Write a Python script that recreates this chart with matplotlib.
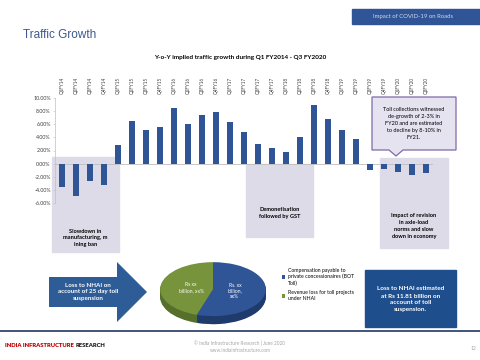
import numpy as np
import matplotlib.pyplot as plt
from matplotlib.patches import Rectangle, Polygon

plt.rcParams['font.family'] = ['Lato', 'DejaVu Sans']

W, H = 480, 360

# data
quarters = ['Q1FY14', 'Q2FY14', 'Q3FY14', 'Q4FY14',
            'Q1FY15', 'Q2FY15', 'Q3FY15', 'Q4FY15',
            'Q1FY16', 'Q2FY16', 'Q3FY16', 'Q4FY16',
            'Q1FY17', 'Q2FY17', 'Q3FY17', 'Q4FY17',
            'Q1FY18', 'Q2FY18', 'Q3FY18', 'Q4FY18',
            'Q1FY19', 'Q2FY19', 'Q3FY19', 'Q4FY19',
            'Q1FY20', 'Q2FY20', 'Q3FY20']
growth = [-3.6, -4.9, -2.6, -3.2,
          2.8, 6.5, 5.1, 5.6,
          8.5, 6.1, 7.4, 7.9,
          6.3, 4.8, 3.0, 2.4,
          1.8, 4.0, 9.0, 6.8,
          5.1, 3.7, -1.0, -0.8,
          -1.2, -1.7, -1.4]
y_ticks = [10, 8, 6, 4, 2, 0, -2, -4, -6]

pie_values = [55, 45]
pie_labels = ['Rs. xx\nbillion,\nxx%', 'Rs xx\nbillion, xx%']
legend_labels = ['Compensation payable to\nprivate concessionaires (BOT\nToll)',
                 'Revenue loss for toll projects\nunder NHAI']

BLUE = '#2f5597'
GREEN = '#77933c'
SHADE = '#dddbe8'


def fx(x):
    return x / W


def fy(y):
    return 1 - y / H


def pts(xy):
    return [(fx(x), fy(y)) for x, y in xy]


fig = plt.figure(figsize=(4.8, 3.6), dpi=100)
T = fig.transFigure

# header
fig.patches.append(Rectangle((fx(352), fy(24)), (480 - 352) / W, 15 / H,
                             transform=T, color=BLUE, zorder=0))
fig.text(fx(413), fy(16.5), 'Impact of COVID-19 on Roads', color='#d0d8ea',
         fontsize=4.3, ha='center', va='center')
fig.text(fx(23), fy(35), 'Traffic Growth', color='#3d5a8c', fontsize=8.5,
         family=['Liberation Sans', 'DejaVu Sans'], ha='left', va='center')
fig.text(fx(240), fy(57), 'Y-o-Y implied traffic growth during Q1 FY2014 - Q3 FY2020',
         fontsize=4.6, fontweight='bold', ha='center', va='center')

# main chart
ax = fig.add_axes([fx(55), fy(203), (433 - 55) / W, (203 - 98) / H])
ax.set_facecolor('none')
x = np.arange(len(quarters))
ax.bar(x, growth, width=0.42, color=BLUE, zorder=3)
ax.axhline(0, color='#bfbfbf', lw=0.6, zorder=2)
ax.set_xlim(-0.5, len(quarters) - 0.5)
ax.set_ylim(-6, 10)
ax.set_yticks(y_ticks, [f'{v:.2f}%' for v in y_ticks])
ax.set_xticks(x, quarters, rotation=90)
ax.xaxis.set_ticks_position('top')
ax.tick_params(axis='x', length=0, pad=3, labelsize=3.3, colors='#404040')
ax.tick_params(axis='y', length=1.5, width=0.4, pad=1.5, labelsize=3.8,
               colors='#bfbfbf', labelcolor='#404040')
for s in ['top', 'right', 'bottom']:
    ax.spines[s].set_visible(False)
ax.spines['left'].set_color('#bfbfbf')
ax.spines['left'].set_linewidth(0.5)

# shaded annotation boxes
boxes = [(52, 157, 119, 252), (246, 164, 313, 237), (380, 158, 448, 248)]
for x0, y0, x1, y1 in boxes:
    ax.add_patch(Rectangle((fx(x0), fy(y1)), (x1 - x0) / W, (y1 - y0) / H,
                           transform=T, color=SHADE, zorder=1, clip_on=False))
ax.text(fx(85.5), fy(238), 'Slowdown in\nmanufacturing, m\nining ban', transform=T,
        fontsize=4.1, fontweight='bold', ha='center', va='center', linespacing=1.45)
ax.text(fx(280), fy(213), 'Demonetisation\nfollowed by GST', transform=T,
        fontsize=4.1, fontweight='bold', ha='center', va='center', linespacing=1.45)
ax.text(fx(414), fy(226), 'Impact of revision\nin axle-load\nnorms and slow\ndown in economy',
        transform=T, fontsize=4.1, fontweight='bold', ha='center', va='center',
        linespacing=1.45)

# callout
callout = Polygon(pts([(372, 97), (456, 97), (456, 150), (403, 150), (396, 156),
                       (389, 150), (372, 150)]), closed=True, transform=T,
                  facecolor='#e6e3f0', edgecolor='#7e6aa8', lw=0.9, zorder=4,
                  clip_on=False)
ax.add_patch(callout)
ax.text(fx(414), fy(123.5),
        'Toll collections witnessed\nde-growth of 2-3% in\nFY20 and are estimated\nto decline by 8-10% in\nFY21.',
        transform=T, fontsize=4.0, ha='center', va='center', linespacing=1.5, zorder=5)

# arrow
arrow = Polygon(pts([(49, 277), (117, 277), (117, 262), (147, 292), (117, 322),
                     (117, 307), (49, 307)]), closed=True, transform=T,
                facecolor='#2d5c97', edgecolor='none')
fig.patches.append(arrow)
fig.text(fx(88), fy(292), 'Loss to NHAI on\naccount of 25 day toll\nsuspension',
         color='white', fontsize=4.5, fontweight='bold', ha='center', va='center',
         linespacing=1.45)

# 3d-ish pie: stacked darker copies underneath give the depth
axp = fig.add_axes([fx(156), fy(328), 114 / W, 68 / H])
depth = 0.3
dark = ['#1f3b6b', '#56702b']
for k in range(10, 0, -1):
    axp.pie(pie_values, colors=dark, startangle=90, counterclock=False,
            center=(0, -depth * k / 10), wedgeprops=dict(linewidth=0))
wedges, texts = axp.pie(pie_values, colors=[BLUE, GREEN], startangle=90,
                        counterclock=False, labels=pie_labels, labeldistance=0.42,
                        wedgeprops=dict(linewidth=0),
                        textprops=dict(color='white', fontsize=3.6))
for t in texts:
    t.set_ha('center')
    t.set_multialignment('center')
axp.set_aspect('auto')
axp.set_xlim(-1.08, 1.08)
axp.set_ylim(-1.44, 1.08)
axp.axis('off')

fig.legend(wedges, legend_labels, loc='upper left',
           bbox_to_anchor=(fx(280), fy(266)), bbox_transform=T, frameon=False,
           fontsize=3.7, handlelength=0.6, handleheight=0.6, handletextpad=0.5,
           labelspacing=0.9, borderaxespad=0)

# right box
fig.patches.append(Rectangle((fx(365), fy(327)), (456 - 365) / W, (327 - 270) / H,
                             transform=T, color='#1f4e8c', zorder=0))
fig.text(fx(410.5), fy(299.5),
         'Loss to NHAI estimated\nat Rs 11.81 billion on\naccount of toll\nsuspension.',
         color='white', fontsize=4.6, fontweight='bold', ha='center', va='center',
         linespacing=1.5)

# footer
fig.lines.append(plt.Line2D([0, 1], [fy(331), fy(331)], transform=T,
                            color='#1f3864', lw=1.2))
red = fig.text(fx(5), fy(345.5), 'INDIA INFRASTRUCTURE', color='#c00000',
               fontsize=4.2, fontweight='heavy', ha='left', va='center')
fig.text(fx(240), fy(346.5), '© India Infrastructure Research | June 2020\nwww.indiainfrastructure.com',
         color='#a6a6a6', fontsize=3.4, ha='center', va='center', linespacing=1.4)
fig.text(fx(473), fy(349), '12', color='#a6a6a6', fontsize=3.6, ha='center', va='center')

# place RESEARCH right after the red part
fig.canvas.draw()
bb = red.get_window_extent()
fig.text((bb.x1 + 1.5) / W, fy(345.5), 'RESEARCH', color='#222222',
         fontsize=4.2, fontweight='heavy', ha='left', va='center')

fig.savefig('out.png', dpi=100)
